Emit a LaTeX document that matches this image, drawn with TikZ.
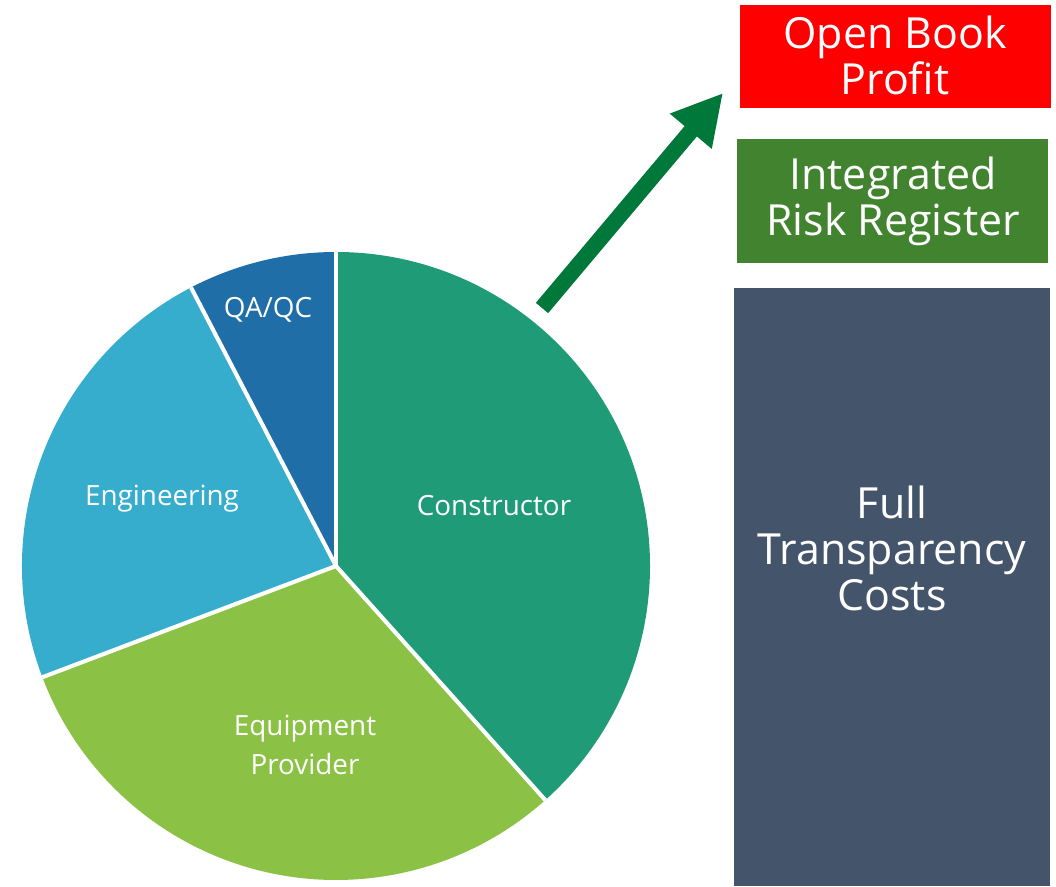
\documentclass[tikz,border=0pt]{standalone}
\usepackage{fontspec}
\setmainfont{Open Sans}
\usetikzlibrary{arrows.meta}

\definecolor{constructor}{HTML}{1F9B78}
\definecolor{equipment}{HTML}{8BC145}
\definecolor{engineering}{HTML}{37ADCD}
\definecolor{qaqc}{HTML}{1F6EA7}
\definecolor{arrowgreen}{HTML}{00783A}
\definecolor{profitred}{HTML}{FF0000}
\definecolor{riskgreen}{HTML}{41832F}
\definecolor{costslate}{HTML}{44546A}

\begin{document}
\begin{tikzpicture}[x=0.025cm, y=0.025cm,
    slicelabel/.style={text=white, font=\fontsize{19.8}{27.7}\selectfont, align=center},
    boxlabel/.style={text=white, font=\fontsize{30.5}{32.7}\selectfont, align=center}]
  \useasboundingbox (0,0) rectangle (1056,886);

  % Pie settings
  \def\pierad{314}
  \coordinate (piecenter) at (336,320);

  % Slices: start angle / end angle / colour
  \foreach \from/\to/\col in {90/-48.2/constructor, -48.2/-159.25/equipment,
                               200.75/117.5/engineering, 117.5/90/qaqc} {
    \fill[\col] (piecenter) -- ++(\from:\pierad)
      arc[start angle=\from, end angle=\to, radius=\pierad] -- cycle;
  }

  % White gaps between the slices
  \foreach \ang in {90,-48.2,-159.25,117.5}
    \draw[white, line width=2.9pt] (piecenter) -- ++(\ang:\pierad);

  % Slice labels
  \node[slicelabel] (constructorlabel) at (494,380) {Constructor};
  \node[slicelabel] (equipmentlabel) at (305,141.5) {Equipment\\Provider};
  \node[slicelabel] (engineeringlabel) at (162,387) {Engineering};
  \node[slicelabel] (qaqclabel) at (268,576) {QA/QC};

  % Boxes on the right
  \fill[profitred] (740,778) rectangle (1051,881);
  \node[boxlabel] (profitlabel) at (895,831) {Open Book\\Profit};

  \fill[riskgreen] (737,623) rectangle (1048,747);
  \node[boxlabel] (risklabel) at (893,685) {Integrated\\Risk Register};

  \fill[costslate] (734,0) rectangle (1050,598);
  \node[boxlabel] (costslabel) at (892,338) {Full\\Transparency\\Costs};

  % Big arrow out of the constructor slice
  \coordinate (arrowtail) at (542,578);
  \coordinate (arrowtip) at (723,793);
  \draw[arrowgreen, line width=11.4pt, -{Triangle[length=35.6pt, width=36.3pt]}]
    (arrowtail) -- (arrowtip);

\end{tikzpicture}
\end{document}
